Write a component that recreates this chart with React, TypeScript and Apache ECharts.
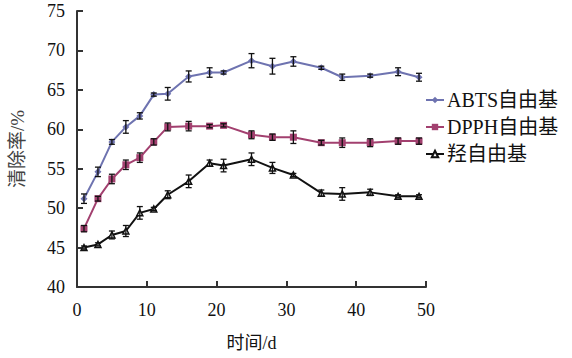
import React, { useEffect, useRef } from "react";
import * as echarts from "echarts";

const days = [1, 3, 5, 7, 9, 11, 13, 16, 19, 21, 25, 28, 31, 35, 38, 42, 46, 49];
const abts = [51.2, 54.6, 58.4, 60.3, 61.7, 64.4, 64.5, 66.7, 67.2, 67.2, 68.7, 68.0, 68.6, 67.8, 66.6, 66.8, 67.3, 66.6];
const abtsErr = [0.6, 0.6, 0.3, 0.8, 0.4, 0.2, 0.8, 0.7, 0.6, 0.2, 0.9, 1.0, 0.6, 0.2, 0.4, 0.2, 0.5, 0.5];
const dpph = [47.4, 51.2, 53.7, 55.5, 56.4, 58.4, 60.3, 60.4, 60.4, 60.5, 59.3, 59.0, 59.0, 58.3, 58.3, 58.3, 58.5, 58.5];
const dpphErr = [0.4, 0.3, 0.6, 0.6, 0.6, 0.4, 0.5, 0.6, 0.2, 0.2, 0.5, 0.4, 0.8, 0.3, 0.6, 0.5, 0.4, 0.4];
const oh = [45.0, 45.4, 46.6, 47.1, 49.4, 49.9, 51.7, 53.4, 55.7, 55.4, 56.2, 55.1, 54.2, 51.9, 51.8, 52.0, 51.5, 51.5];
const ohErr = [0.2, 0.2, 0.5, 0.7, 0.8, 0.2, 0.5, 0.8, 0.4, 0.8, 0.8, 0.7, 0.2, 0.4, 0.8, 0.4, 0.2, 0.2];

const seriesNames = ["ABTS自由基", "DPPH自由基", "羟自由基"];
const yMin = 40;
const yMax = 75;

const FONT = "'Liberation Serif', 'Times New Roman', 'Noto Sans CJK SC', serif";

export default function App() {
  const ref = useRef<HTMLDivElement>(null);
  useEffect(() => {
    if (!ref.current) return;
    const chart = echarts.init(ref.current, undefined, { renderer: "svg" });
    const colors = ["#6e73b0", "#a2406f", "#111111"];
    const symbols = ["diamond", "rect", "triangle"];
    const sizes = [7, 7, 6];
    const vals = [abts, dpph, oh];
    const errs = [abtsErr, dpphErr, ohErr];

    const lineSeries = vals.map((v, i) => ({
      name: seriesNames[i],
      type: "line",
      data: days.map((d, j) => [d, v[j]]),
      symbol: symbols[i],
      symbolSize: sizes[i],
      showSymbol: true,
      lineStyle: { color: colors[i], width: 2 },
      itemStyle: i === 2 ? { color: "#ffffff", borderColor: colors[i], borderWidth: 1.5 } : { color: colors[i] },
      z: 3,
    }));

    const errSeries = vals.map((v, i) => ({
      name: seriesNames[i] + "err",
      type: "custom",
      data: days.map((d, j) => [d, v[j], errs[i][j]]),
      renderItem: (params: any, api: any) => {
        const x = api.value(0);
        const y = api.value(1);
        const e = api.value(2);
        const lo = api.coord([x, y - e]);
        const hi = api.coord([x, y + e]);
        const w = 3;
        const st = { stroke: "#111", lineWidth: 1.3 };
        return {
          type: "group",
          children: [
            { type: "line", shape: { x1: lo[0], y1: lo[1], x2: hi[0], y2: hi[1] }, style: st },
            { type: "line", shape: { x1: lo[0] - w, y1: lo[1], x2: lo[0] + w, y2: lo[1] }, style: st },
            { type: "line", shape: { x1: hi[0] - w, y1: hi[1], x2: hi[0] + w, y2: hi[1] }, style: st },
          ],
        };
      },
      z: 4,
      silent: true,
    }));

    chart.setOption({
      animation: false,
      backgroundColor: "#ffffff",
      grid: { left: 71, right: 146, top: 11, bottom: 71, containLabel: false },
      legend: {
        data: seriesNames,
        orient: "vertical",
        left: 425,
        top: 90,
        itemGap: 7,
        itemWidth: 18,
        itemHeight: 8,
        textStyle: { fontFamily: FONT, fontSize: 20, color: "#111", padding: [0, 0, 0, -2] },
        padding: 0,
      },
      xAxis: {
        type: "value",
        min: 0,
        max: 50,
        interval: 10,
        name: "时间/d",
        nameLocation: "middle",
        nameGap: 47,
        nameTextStyle: { fontFamily: FONT, fontSize: 18, color: "#111" },
        axisLine: { lineStyle: { color: "#333", width: 2 } },
        axisTick: { inside: true, length: 6, lineStyle: { color: "#333", width: 2 } },
        axisLabel: { fontFamily: FONT, fontSize: 18, color: "#111", margin: 14 },
        splitLine: { show: false },
      },
      yAxis: {
        type: "value",
        min: yMin,
        max: yMax,
        interval: 5,
        name: "清除率/%",
        nameLocation: "middle",
        nameGap: 50,
        nameTextStyle: { fontFamily: FONT, fontSize: 19, color: "#444" },
        axisLine: { show: true, lineStyle: { color: "#333", width: 2 } },
        axisTick: { show: true, inside: true, length: 6, lineStyle: { color: "#333", width: 2 } },
        axisLabel: { fontFamily: FONT, fontSize: 18, color: "#111", margin: 12 },
        splitLine: { show: false },
      },
      series: [...errSeries, ...lineSeries],
    });
    return () => chart.dispose();
  }, []);
  return (
    <div
      ref={ref}
      style={{ position: "absolute", left: 0, top: 0, width: 572, height: 358, background: "#fff" }}
    />
  );
}
